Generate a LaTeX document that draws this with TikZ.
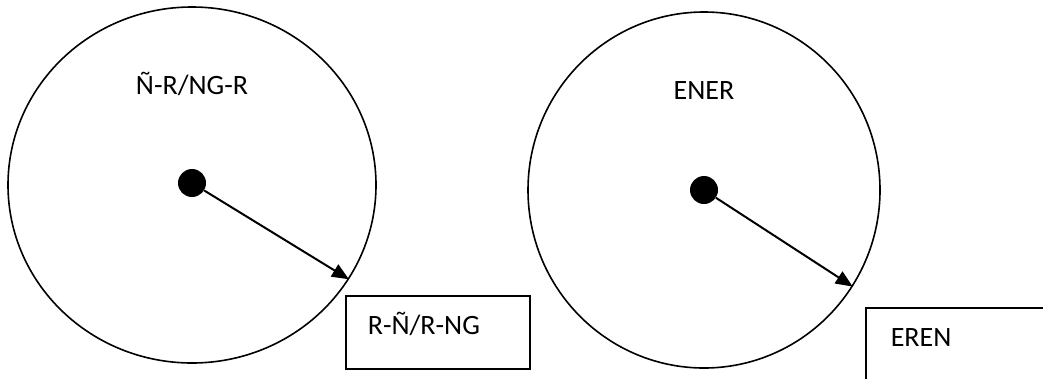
\documentclass[tikz,border=0pt]{standalone}
\usepackage{fontspec}
\setmainfont{Carlito}
\usetikzlibrary{shapes.geometric,arrows.meta}
\tikzset{
  ring/.style={draw, ellipse, line width=1.6pt, inner sep=0pt},
  hub/.style={circle, fill=black, inner sep=0pt, minimum size=28pt},
  spoke/.style={line width=2pt, -{Triangle[length=17pt,width=14pt]}},
  lbl/.style={font=\fontsize{28}{32}\selectfont, inner sep=0pt, anchor=base},
  tag/.style={draw, line width=1.6pt, rectangle, font=\fontsize{28}{32}\selectfont, align=left, anchor=north west}
}
\begin{document}
\begin{tikzpicture}[x=1pt,y=-1pt]
\useasboundingbox (0,0) rectangle (1043,378);
\clip (0,0) rectangle (1043,378);
% left
\node[ring, minimum width=368pt, minimum height=356pt] (c1) at (192,185) {};
\node[hub] (d1) at (192,183) {};
\node[lbl] (t1) at (192,94) {Ñ-R/NG-R};
\draw[spoke] (d1) -- (c1.-31);
\node[tag, minimum width=184pt, minimum height=73pt, text width=140pt, inner xsep=22pt, inner ysep=0pt, text height=17pt, text depth=12pt] (b1) at (345,295) {R-Ñ/R-NG};
% right
\node[ring, minimum width=352pt, minimum height=356pt] (c2) at (704,190) {};
\node[hub] (d2) at (704,190) {};
\node[lbl] (t2) at (704,99) {ENER};
\draw[spoke] (d2) -- (c2.-33);
\node[tag, minimum width=200pt, minimum height=100pt, text width=150pt, inner xsep=23pt, inner ysep=0pt, text height=18pt, text depth=40pt] (b2) at (865,307) {EREN};
\end{tikzpicture}
\end{document}
